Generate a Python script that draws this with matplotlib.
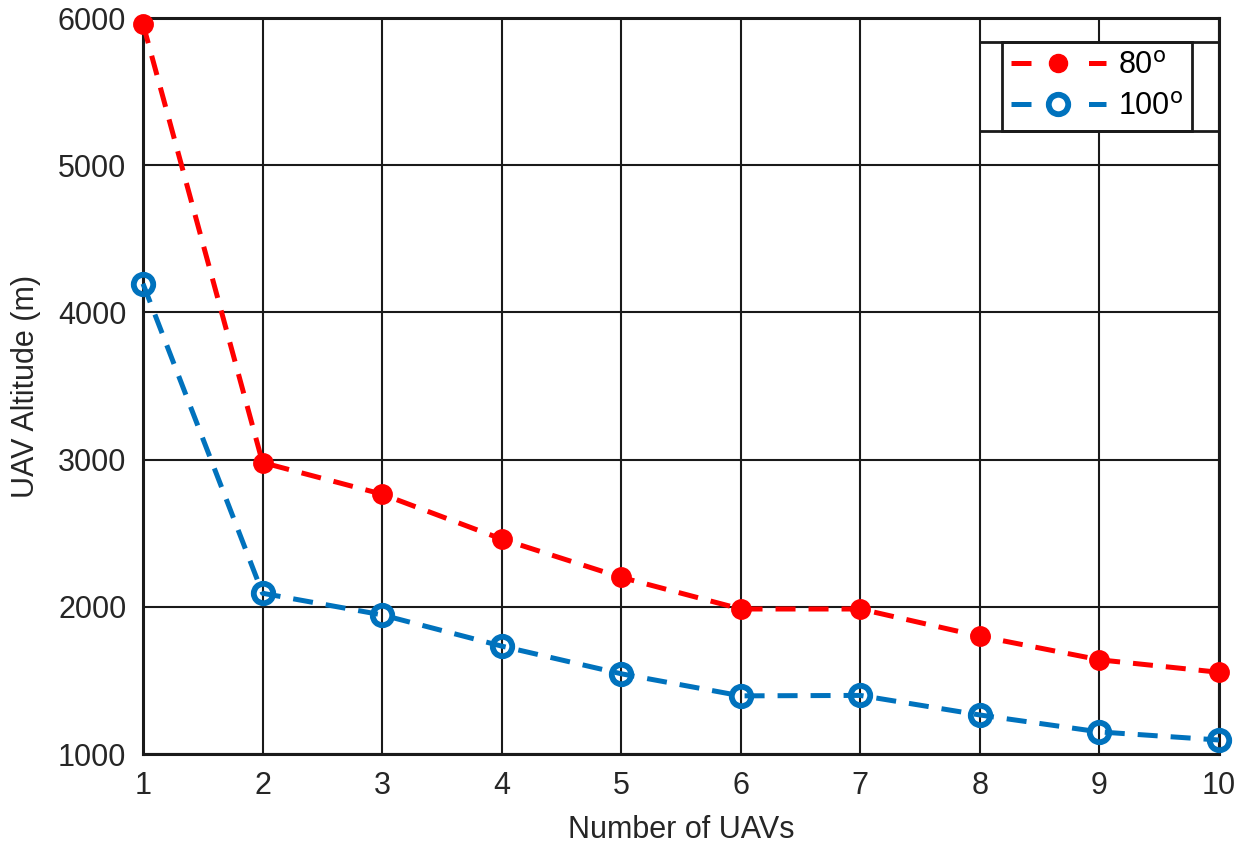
import numpy as np
import matplotlib.pyplot as plt

plt.rcParams['font.family'] = ['Liberation Sans', 'DejaVu Sans']

# data
uavs = np.arange(1, 11)
alt_80 = [5960, 2980, 2765, 2460, 2200, 1985, 1985, 1800, 1640, 1555]
alt_100 = [4195, 2092, 1945, 1733, 1545, 1395, 1398, 1265, 1150, 1095]
labels = ['80$^{\\mathrm{o}}$', '100$^{\\mathrm{o}}$']

red = '#ff0000'
blue = '#0072bd'
txt = '#262626'
dash = (0, (4, 2.6))

fig = plt.figure(figsize=(12.47, 8.44), dpi=100)
ax = fig.add_axes([143/1247, 1 - 754/844, (1219-143)/1247, (754-18)/844])

# markers under the dashed lines so the dash shows through them
ax.plot(uavs, alt_80, ls='none', marker='o', ms=13, mfc=red, mec=red, mew=2, zorder=3, clip_on=False)
ax.plot(uavs, alt_100, ls='none', marker='o', ms=14, mfc='none', mec=blue, mew=4.2, zorder=3, clip_on=False)
ax.plot(uavs, alt_80, ls=dash, color=red, lw=3.6, zorder=4, clip_on=False)
ax.plot(uavs, alt_100, ls=dash, color=blue, lw=3.6, zorder=4, clip_on=False)

# legend handles: short dash - marker - short dash
h1, = ax.plot([], [], ls=(0, (4, 11.5)), color=red, lw=3.6, marker='o', ms=13, mfc=red, mec=red)
h2, = ax.plot([], [], ls=(0, (4, 11.5)), color=blue, lw=3.6, marker='o', ms=14, mfc='none', mec=blue, mew=4.2)

ax.set_xlim(1, 10)
ax.set_ylim(1000, 6000)
ax.set_xticks(uavs)
ax.set_yticks([1000, 2000, 3000, 4000, 5000, 6000])
ax.grid(True, color='#1a1a1a', lw=1.5)
ax.set_axisbelow(True)
for s in ax.spines.values():
    s.set_linewidth(2.2)
    s.set_color('#1a1a1a')
ax.tick_params(labelsize=22, colors=txt, length=0, pad=12)
ax.set_xlabel('Number of UAVs', fontsize=22, color=txt, labelpad=10)
ax.set_ylabel('UAV Altitude (m)', fontsize=22, color=txt, labelpad=12)

leg = ax.legend([h1, h2], labels, loc='upper right', bbox_to_anchor=((1192-143)/1076, 1 - (42-18)/736),
                fontsize=22, frameon=True, fancybox=False, framealpha=1, edgecolor='#1a1a1a',
                handlelength=3.1, borderpad=0.3, labelspacing=0.35, handletextpad=0.4, borderaxespad=0)
leg.get_frame().set_linewidth(2)
leg.set_zorder(6)

# extra frame lines seen around the legend in the reference
x0 = (980-143)/1076
for yy in [1 - (42-18)/736, 1 - (131-18)/736]:
    ax.plot([x0, 1], [yy, yy], transform=ax.transAxes, color='#1a1a1a', lw=2, zorder=7, clip_on=False)

fig.savefig('out.png', dpi=100)
